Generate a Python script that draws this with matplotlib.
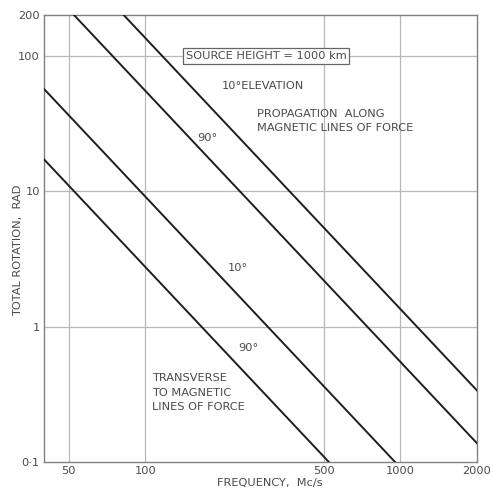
import numpy as np
import matplotlib
matplotlib.use("Agg")
import matplotlib.pyplot as plt
from matplotlib.ticker import FixedLocator, FixedFormatter, NullLocator

# Faraday rotation falls off as 1/f^2: rotation = coeff / f^2 (f in Mc/s)
curve_names = ["transverse 90", "transverse 10", "along 90", "along 10"]
curve_coeffs = [27500.0, 91000.0, 550000.0, 1350000.0]

freq_ticks = [50, 100, 500, 1000, 2000]
freq_labels = ["50", "100", "500", "1000", "2000"]
rot_ticks = [0.1, 1, 10, 100, 200]
rot_labels = ["0\u00b71", "1", "10", "100", "200"]

x_min, x_max = 40, 2000
y_min, y_max = 0.1, 200

W, H = 493, 492
fig = plt.figure(figsize=(W / 100, H / 100), dpi=100)
L, R, T, B = 44, 477, 15, 462
ax = fig.add_axes([L / W, (H - B) / H, (R - L) / W, (B - T) / H])

ax.set_xscale("log")
ax.set_yscale("log")
ax.set_xlim(x_min, x_max)
ax.set_ylim(y_min, y_max)

text_col = "#4a4a4a"
grid_col = "#b8b8b8"

ax.xaxis.set_major_locator(FixedLocator(freq_ticks))
ax.xaxis.set_major_formatter(FixedFormatter(freq_labels))
ax.xaxis.set_minor_locator(NullLocator())
ax.yaxis.set_major_locator(FixedLocator(rot_ticks))
ax.yaxis.set_major_formatter(FixedFormatter(rot_labels))
ax.yaxis.set_minor_locator(NullLocator())
ax.tick_params(length=0, labelsize=8.2, labelcolor=text_col)
ax.tick_params(axis="x", pad=3)
ax.tick_params(axis="y", pad=3)

for v in freq_ticks[:-1]:
    ax.axvline(v, color=grid_col, lw=0.9, zorder=1)
for v in rot_ticks[1:-1]:
    ax.axhline(v, color=grid_col, lw=0.9, zorder=1)

for name, sp in ax.spines.items():
    sp.set_color("#808080")
    sp.set_linewidth(1.0)

f = np.logspace(np.log10(x_min), np.log10(x_max), 200)
for c in curve_coeffs:
    ax.plot(f, c / f ** 2, color="#1e1e1e", lw=1.4, zorder=3, clip_on=True)

font = "DejaVu Sans"
def px_text(px, py, s, **kw):
    fx = (px - L) / (R - L)
    fy = (B - py) / (B - T)
    ax.text(fx, fy, s, transform=ax.transAxes, fontsize=8.2, color=text_col,
            family=font, **kw)

# header box sits on the 100 rad grid line
box_x = 10 ** (np.log10(x_min) + (266 - L) / (R - L) * np.log10(x_max / x_min))
ax.text(box_x, 100, "SOURCE HEIGHT = 1000 km", ha="center", va="center",
        fontsize=8.2, color=text_col, family=font, zorder=5,
        bbox=dict(boxstyle="square,pad=0.25", fc="white", ec="#666666", lw=0.9))
px_text(222, 86, "10\u00b0ELEVATION", ha="left", va="center")
px_text(257, 114, "PROPAGATION  ALONG", ha="left", va="center")
px_text(257, 128, "MAGNETIC LINES OF FORCE", ha="left", va="center")
px_text(207, 138, "90\u00b0", ha="center", va="center")
px_text(238, 268, "10\u00b0", ha="center", va="center")
px_text(248, 348, "90\u00b0", ha="center", va="center")
px_text(152, 378, "TRANSVERSE", ha="left", va="center")
px_text(152, 393, "TO MAGNETIC", ha="left", va="center")
px_text(152, 407, "LINES OF FORCE", ha="left", va="center")

ax.set_xlabel("FREQUENCY,  Mc/s", fontsize=8.2, color=text_col, labelpad=2)
ax.xaxis.set_label_coords((270 - L) / (R - L), -(483 - B) / (B - T))
ax.set_ylabel("TOTAL ROTATION,  RAD", fontsize=8.2, color=text_col)
ax.yaxis.set_label_coords(-(L - 18) / (R - L), (B - 250) / (B - T))
ax.xaxis.label.set_va("center")
ax.yaxis.label.set_va("center")

fig.savefig("out.png", dpi=100, facecolor="white")
